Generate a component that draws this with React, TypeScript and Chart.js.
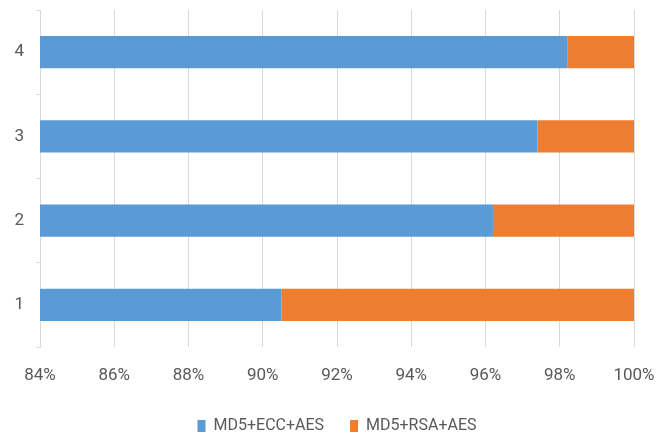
import React, { useEffect, useRef } from "react";
import { Chart, registerables } from "chart.js";

Chart.register(...registerables);

// Share of each scheme per test case (percent of the combined total)
const categories = ["1", "2", "3", "4"];
const eccShare = [90.5, 96.2, 97.4, 98.2];
const rsaShare = [9.5, 3.8, 2.6, 1.8];
const seriesNames = ["MD5+ECC+AES", "MD5+RSA+AES"];
const axisMin = 84;
const axisMax = 100;
const axisStep = 2;

const FONT = 'Roboto, "Liberation Sans", sans-serif';
const TEXT = "#595959";
const GRID = "#d9d9d9";

export default function App() {
  const ref = useRef<HTMLCanvasElement | null>(null);

  useEffect(() => {
    if (!ref.current) return;
    const tickFont = { family: FONT, size: 17 };
    const legendFont = { family: FONT, size: 16 };
    const chart = new Chart(ref.current, {
      type: "bar",
      data: {
        labels: categories,
        datasets: [
          {
            label: seriesNames[0],
            data: eccShare,
            backgroundColor: "#5b9bd5",
            borderWidth: 0,
            categoryPercentage: 1,
            barPercentage: 0.38,
          },
          {
            label: seriesNames[1],
            data: rsaShare,
            backgroundColor: "#ed7d31",
            borderWidth: 0,
            categoryPercentage: 1,
            barPercentage: 0.38,
          },
        ],
      },
      options: {
        indexAxis: "y",
        responsive: false,
        animation: false,
        layout: { padding: { top: 10, right: 36, left: 0, bottom: 0 } },
        scales: {
          x: {
            stacked: true,
            min: axisMin,
            max: axisMax,
            ticks: {
              stepSize: axisStep,
              color: TEXT,
              font: tickFont,
              padding: 19,
              callback: (v: any) => `${v}%`,
            },
            grid: { color: GRID, lineWidth: 1, drawTicks: false },
            border: { display: false },
            afterFit: (axis: any) => {
              axis.height = 45;
              axis.paddingLeft = 0;
              axis.paddingRight = 0;
            },
          },
          y: {
            stacked: true,
            reverse: true,
            ticks: {
              color: TEXT,
              font: tickFont,
              padding: 12,
            },
            grid: {
              drawOnChartArea: false,
              drawTicks: true,
              tickLength: 4,
              color: GRID,
            },
            border: { display: true, color: GRID },
            afterFit: (axis: any) => {
              axis.width = 40;
              axis.paddingTop = 0;
              axis.paddingBottom = 0;
            },
          },
        },
        plugins: {
          tooltip: { enabled: false },
          legend: {
            position: "bottom",
            fullSize: false,
            labels: {
              boxWidth: 8,
              boxHeight: 12,
              padding: 26,
              color: TEXT,
              font: legendFont,
            },
          },
        },
      },
    });
    return () => chart.destroy();
  }, []);

  return (
    <div
      style={{
        position: "fixed",
        left: 0,
        top: 0,
        width: 670,
        height: 440,
        overflow: "hidden",
        background: "#fff",
      }}
    >
      <canvas ref={ref} width={670} height={444} style={{ display: "block" }} />
    </div>
  );
}
